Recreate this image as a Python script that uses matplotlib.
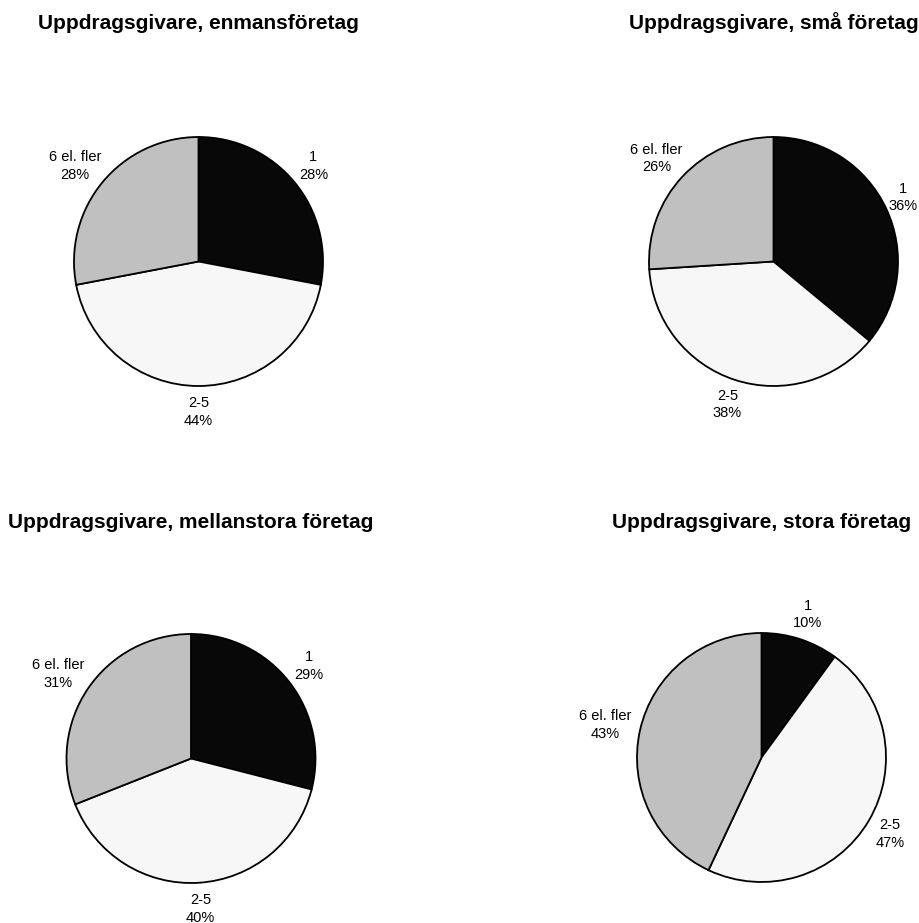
import numpy as np
import matplotlib
matplotlib.use("Agg")
import matplotlib.pyplot as plt

plt.rcParams['font.family'] = ['Liberation Sans', 'DejaVu Sans']

# Data
titles = ["Uppdragsgivare, enmansföretag",
          "Uppdragsgivare, små företag",
          "Uppdragsgivare, mellanstora företag",
          "Uppdragsgivare, stora företag"]
categories = ["1", "2-5", "6 el. fler"]
enmans = [28, 44, 28]
sma = [36, 38, 26]
mellanstora = [29, 40, 31]
stora = [10, 47, 43]
series = [enmans, sma, mellanstora, stora]
colors = ["#080808", "#f7f7f7", "#c0c0c0"]

# Layout in pixels
W, H = 920, 923
centers = [(198.5, 261.5), (773.5, 261.5), (191, 758.5), (761.5, 757.5)]
title_base = [29, 29, 528, 528]
radius = 124.5
span = 1.6  # axes half-size in radius units

fig = plt.figure(figsize=(W / 100, H / 100), dpi=100)
fig.patch.set_facecolor("white")

all_labels = []
for k, values in enumerate(series):
    cx, cy = centers[k]
    half = span * radius
    ax = fig.add_axes([(cx - half) / W, (H - cy - half) / H, 2 * half / W, 2 * half / H])

    wedges, _ = ax.pie(values, colors=colors, startangle=90, counterclock=False,
                       radius=1.0, frame=True,
                       wedgeprops=dict(edgecolor="black", linewidth=1.3))
    ax.set_xlim(-span, span)
    ax.set_ylim(-span, span)
    ax.set_aspect("equal")
    ax.axis("off")

    for w, cat, v in zip(wedges, categories, values):
        mid = np.deg2rad((w.theta1 + w.theta2) / 2)
        t = ax.text(0, 0, f"{cat}\n{v}%", ha="center", va="center",
                    fontsize=10.5, linespacing=1.35, color="black")
        all_labels.append((t, cx, np.cos(mid), np.sin(mid)))

    fig.text(cx / W, 1 - title_base[k] / H, titles[k], ha="center", va="baseline",
             fontsize=15, fontweight="bold", color="black")

# Place labels just outside the pie, pushed out by their own size
fig.canvas.draw()
renderer = fig.canvas.get_renderer()
for t, cx, ux, uy in all_labels:
    bb = t.get_window_extent(renderer)
    hw = bb.width / 2 / radius
    hh = bb.height / 2 / radius
    gap = 1.08
    x = ux * (gap + hw)
    y = uy * (gap + hh)
    # keep the label inside the figure
    right = cx + (x + hw) * radius
    if right > W - 2:
        x -= (right - (W - 2)) / radius
    t.set_position((x, y))

fig.savefig("out.png", dpi=100)
